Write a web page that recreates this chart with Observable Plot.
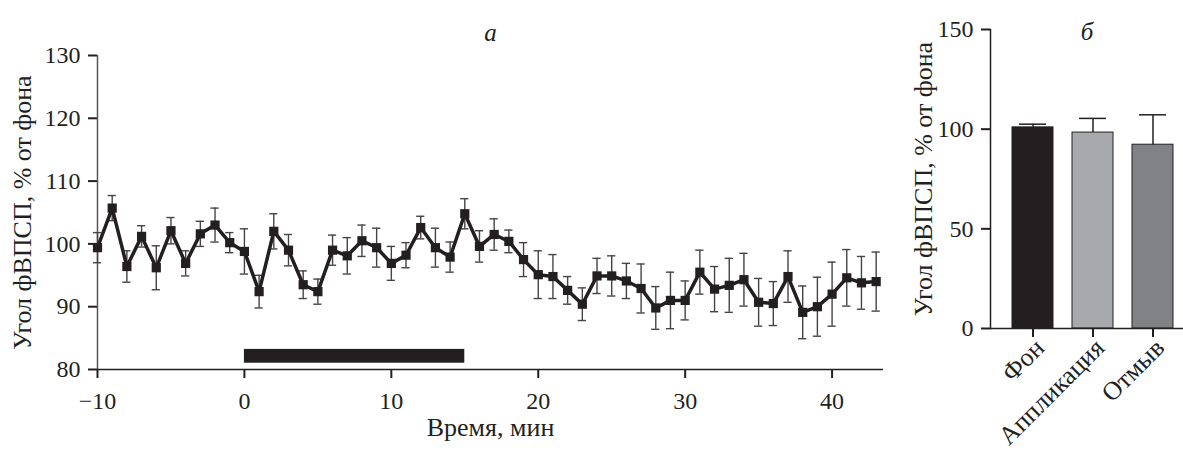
<!DOCTYPE html>
<html><head><meta charset="utf-8">
<script src="https://cdn.jsdelivr.net/npm/d3@7"></script>
<script src="https://cdn.jsdelivr.net/npm/@observablehq/plot@0.6"></script>
<style>
body{margin:0;background:#fff;}
#wrap{position:relative;width:1183px;height:458px;overflow:hidden;background:#fff;}
#a{position:absolute;left:0;top:0;}
#b{position:absolute;left:880px;top:0;}
svg{overflow:visible;}
</style></head><body><div id="wrap"><div id="a"></div><div id="b"></div></div>
<script>
// ---- Panel а: time course ----
const minutes = [-10,-9,-8,-7,-6,-5,-4,-3,-2,-1,0,1,2,3,4,5,6,7,8,9,10,11,12,13,14,15,16,17,18,19,20,21,22,23,24,25,26,27,28,29,30,31,32,33,34,35,36,37,38,39,40,41,42,43];
const meanAngle = [99.4,105.7,96.4,101.2,96.2,102.1,96.9,101.6,103.0,100.2,98.8,92.4,102.0,99.0,93.5,92.4,99.0,98.1,100.5,99.4,96.9,98.2,102.6,99.4,97.9,104.8,99.6,101.5,100.4,97.5,95.1,94.8,92.6,90.4,94.9,94.9,94.1,92.9,89.8,91.0,91.0,95.5,92.8,93.4,94.3,90.7,90.5,94.8,89.1,90.0,92.0,94.6,93.8,94.0];
const semAngle = [2.4,2.0,2.5,1.7,3.5,2.1,2.0,2.0,2.7,1.6,3.6,2.6,2.8,2.5,2.2,2.0,2.4,2.9,2.5,3.1,2.7,2.0,1.8,3.1,2.4,2.4,2.5,2.5,1.8,2.7,3.8,3.5,2.2,2.6,2.8,3.2,2.8,3.9,3.4,4.5,3.1,3.5,3.6,4.3,4.2,3.8,3.5,4.1,4.2,4.7,5.1,4.5,4.2,4.7];
const xTicks = [-10,0,10,20,30,40];
const yTicksA = [80,90,100,110,120,130];
const applicationStart = [0];
const applicationEnd = [15];
const titleA = "а";
const xLabel = "Время, мин";
const yLabel = "Угол фВПСП, % от фона";

// ---- Panel б: summary bars ----
const phases = ["Фон","Аппликация","Отмыв"];
const phaseMean = [100.9, 98.3, 92.2];
const phaseSem = [1.6, 7.1, 15.0];
const phaseColor = ["#231f20","#a7a9ac","#808285"];
const yTicksB = [0,50,100,150];
const titleB = "б";

const ink = "#231f20";
const font = "'Liberation Serif','Times New Roman',serif";
const fsTick = 24;
const fsLab = 26;

const series = minutes.map((t,i)=>({t, m: meanAngle[i], e: semAngle[i]}));
const stim = applicationStart.map((s,i)=>({s, f: applicationEnd[i]}));
const fmtMinus = d => d < 0 ? "\u2212" + Math.abs(d) : String(d);

const left = Plot.plot({
  width: 895, height: 458,
  marginLeft: 97, marginRight: 12, marginTop: 55, marginBottom: 89,
  style: {fontFamily: font, fontSize: fsTick + "px", color: ink, background: "transparent"},
  x: {domain: [-10, 43.5]},
  y: {domain: [80, 130]},
  marks: [
    Plot.axisX({ticks: xTicks, tickFormat: fmtMinus, tickSize: 9, tickPadding: 13, strokeWidth: 2, label: null, fontSize: fsTick}),
    Plot.axisY({ticks: yTicksA, tickSize: 9, tickPadding: 8, strokeWidth: 2, label: null, fontSize: fsTick}),
    Plot.ruleX([-10], {stroke: "#555", strokeWidth: 1.5}),
    Plot.ruleY([80], {stroke: ink, strokeWidth: 1.5}),
    Plot.rect(stim, {x1: "s", x2: "f", y1: 81, y2: 83.2, fill: ink}),
    Plot.ruleX(series, {x: "t", y1: d => d.m - d.e, y2: d => d.m + d.e, stroke: "#444", strokeWidth: 1.4}),
    Plot.ruleY(series, {y: d => d.m + d.e, x1: d => d.t - 0.28, x2: d => d.t + 0.28, stroke: "#444", strokeWidth: 1.4}),
    Plot.ruleY(series, {y: d => d.m - d.e, x1: d => d.t - 0.28, x2: d => d.t + 0.28, stroke: "#444", strokeWidth: 1.4}),
    Plot.line(series, {x: "t", y: "m", stroke: ink, strokeWidth: 3.5}),
    Plot.dot(series, {x: "t", y: "m", symbol: "square", r: 5.2, fill: ink, stroke: "none"}),
    Plot.text([titleA], {text: d => d, frameAnchor: "top", dy: -32, fontStyle: "italic", fontSize: 25, fill: ink}),
    Plot.text([xLabel], {text: d => d, frameAnchor: "bottom", dy: 66, fontSize: fsLab, fill: ink}),
    Plot.text([yLabel], {text: d => d, frameAnchor: "left", textAnchor: "middle", dx: -75, rotate: -90, fontSize: fsLab, fill: ink})
  ]
});
document.getElementById("a").append(left);

const bars = phases.map((p,i)=>({p, m: phaseMean[i], e: phaseSem[i], c: phaseColor[i]}));
const right = Plot.plot({
  width: 303, height: 458,
  marginLeft: 110, marginRight: 0, marginTop: 29, marginBottom: 130,
  style: {fontFamily: font, fontSize: fsTick + "px", color: ink, background: "transparent"},
  x: {domain: phases, paddingInner: 0.32, paddingOuter: 0.25, align: 0.68},
  y: {domain: [0, 150]},
  marks: [
    Plot.barY(bars, {x: "p", y: "m", fill: d => d.c, stroke: ink, strokeWidth: 1}),
    Plot.ruleX(bars, {x: "p", y1: "m", y2: d => d.m + d.e, stroke: ink, strokeWidth: 1.5}),
    Plot.tickY(bars, {x: "p", y: d => d.m + d.e, stroke: ink, strokeWidth: 1.5, insetLeft: 7, insetRight: 7}),
    Plot.axisX({tickSize: 9, strokeWidth: 2, text: null, label: null}),
    Plot.axisX({tickSize: 0, tickRotate: -45, tickPadding: 15, dx: 7, label: null, fontSize: fsLab}),
    Plot.axisY({ticks: yTicksB, tickSize: 9, tickPadding: 8, strokeWidth: 2, label: null, fontSize: fsTick}),
    Plot.frame({anchor: "left", stroke: ink, strokeWidth: 1.5}),
    Plot.ruleY([0], {stroke: ink, strokeWidth: 1.5}),
    Plot.text([titleB], {text: d => d, frameAnchor: "top", dy: -7, fontStyle: "italic", fontSize: 25, fill: ink}),
    Plot.text([yLabel], {text: d => d, frameAnchor: "left", textAnchor: "middle", dx: -67, rotate: -90, fontSize: fsLab, fill: ink})
  ]
});
document.getElementById("b").append(right);
</script></body></html>
